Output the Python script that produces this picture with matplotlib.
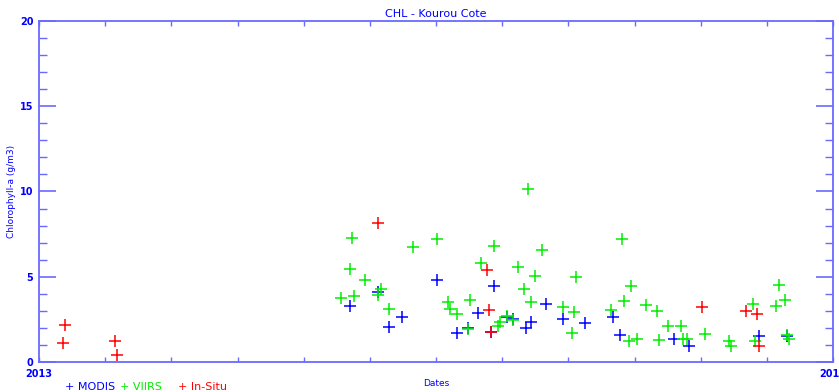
"""
CHL time series at Kourou Cote: MODIS, VIIRS and in-situ chlorophyll-a
"""
import numpy as np
import pandas as pd
import matplotlib
matplotlib.use("Agg")
import matplotlib.pyplot as plt
import matplotlib.dates as mdates

# MODIS match-ups
modis_dates = ["2013-05-24", "2013-06-06", "2013-06-11", "2013-06-17", "2013-07-03",
               "2013-07-12", "2013-07-17", "2013-07-22", "2013-07-28", "2013-07-29",
               "2013-08-04", "2013-08-07", "2013-08-13", "2013-08-15", "2013-08-22",
               "2013-08-30", "2013-09-09", "2013-09-22", "2013-09-25", "2013-10-20",
               "2013-10-27", "2013-11-28", "2013-12-11"]
modis_chl = [3.26, 4.11, 2.08, 2.62, 4.81,
             1.68, 2.02, 2.87, 1.74, 4.47,
             2.65, 2.55, 1.99, 2.33, 3.39,
             2.52, 2.27, 2.61, 1.57, 1.33,
             0.94, 1.55, 1.52]

# VIIRS match-ups
viirs_dates = ["2013-05-20", "2013-05-24", "2013-05-25", "2013-05-26", "2013-05-31",
               "2013-06-06", "2013-06-07", "2013-06-11", "2013-06-22", "2013-07-03",
               "2013-07-08", "2013-07-09", "2013-07-12", "2013-07-18", "2013-07-17",
               "2013-07-23", "2013-07-29", "2013-07-31", "2013-08-01", "2013-08-04",
               "2013-08-07", "2013-08-09", "2013-08-12", "2013-08-14", "2013-08-15",
               "2013-08-17", "2013-08-20", "2013-08-30", "2013-09-04", "2013-09-03",
               "2013-09-05", "2013-09-21", "2013-09-26", "2013-09-27", "2013-09-30",
               "2013-09-29", "2013-10-03", "2013-10-07", "2013-10-12", "2013-10-13",
               "2013-10-17", "2013-10-23", "2013-10-24", "2013-10-26", "2013-11-03",
               "2013-11-14", "2013-11-15", "2013-11-25", "2013-11-26", "2013-12-06",
               "2013-12-07", "2013-12-10", "2013-12-11", "2013-12-12"]
viirs_chl = [3.78, 5.44, 7.27, 3.89, 4.79,
             3.95, 4.29, 3.12, 6.76, 7.20,
             3.52, 3.08, 2.83, 3.61, 1.96,
             5.79, 6.80, 2.11, 2.36, 2.70,
             2.46, 5.59, 4.27, 10.15, 3.54,
             5.04, 6.54, 3.23, 2.95, 1.72,
             4.97, 3.05, 7.23, 3.58, 4.47,
             1.21, 1.34, 3.33, 3.00, 1.29,
             2.12, 2.12, 1.34, 1.34, 1.62,
             1.21, 0.94, 3.42, 1.23, 3.28,
             4.53, 3.64, 1.60, 1.35]

# In-situ samples
insitu_dates = ["2013-01-12", "2013-01-13", "2013-02-05", "2013-02-06", "2013-06-06",
                "2013-07-26", "2013-07-27", "2013-07-28", "2013-11-02", "2013-11-22",
                "2013-11-27", "2013-11-28"]
insitu_chl = [1.11, 2.15, 1.25, 0.40, 8.15,
              5.40, 3.05, 1.74, 3.20, 2.97,
              2.83, 0.94]

axis_col = "#6a6aff"

fig = plt.figure(figsize=(8.39, 3.92), dpi=100)
ax = fig.add_axes([39/839, 30/392, 794/839, 341/392])

for dates, vals, col in [(modis_dates, modis_chl, "#0000ff"),
                         (viirs_dates, viirs_chl, "#00ee00"),
                         (insitu_dates, insitu_chl, "#ff0000")]:
    ax.plot(pd.to_datetime(dates), vals, linestyle="none", marker="+",
            markersize=8.5, markeredgewidth=1.1, color=col, clip_on=False)

start = mdates.date2num(pd.Timestamp("2013-01-01"))
end = mdates.date2num(pd.Timestamp("2014-01-01"))
ax.set_xlim(start, end)
ax.set_ylim(0, 20)

xt = np.linspace(start, end, 13)
ax.set_xticks(xt)
ax.set_xticklabels(["2013"] + [""] * 11 + ["2014"])
ax.set_yticks([0, 5, 10, 15, 20])
ax.set_yticks(np.arange(0, 21, 1), minor=True)

for s in ax.spines.values():
    s.set_color(axis_col)
    s.set_linewidth(1.3)

ax.tick_params(axis="x", which="both", direction="in", top=True, length=3.5,
               width=1, color=axis_col, labelcolor="#0000ff", labelsize=7, pad=5)
ax.tick_params(axis="y", which="major", direction="in", right=True, length=12,
               width=1.2, color=axis_col, labelcolor="#0000ff", labelsize=7, pad=4)
ax.tick_params(axis="y", which="minor", direction="in", right=True, length=6,
               width=1, color=axis_col)
for lbl in ax.get_yticklabels() + ax.get_xticklabels():
    lbl.set_fontweight("bold")

ax.set_title("CHL - Kourou Cote", color="#0000ff", fontsize=8, pad=3)
ax.set_ylabel("Chlorophyll-a (g/m3)", color="#0000ff", fontsize=6.5, labelpad=3)
ax.set_xlabel("Dates", color="#0000ff", fontsize=6.5, labelpad=0)

fig.text(65/839, 5/392, "+ MODIS", color="#0000ff", fontsize=8, va="center", ha="left")
fig.text(120/839, 5/392, "+ VIIRS", color="#00ee00", fontsize=8, va="center", ha="left")
fig.text(178/839, 5/392, "+ In-Situ", color="#ff0000", fontsize=8, va="center", ha="left")

fig.savefig("out.png", dpi=100, facecolor="white")
